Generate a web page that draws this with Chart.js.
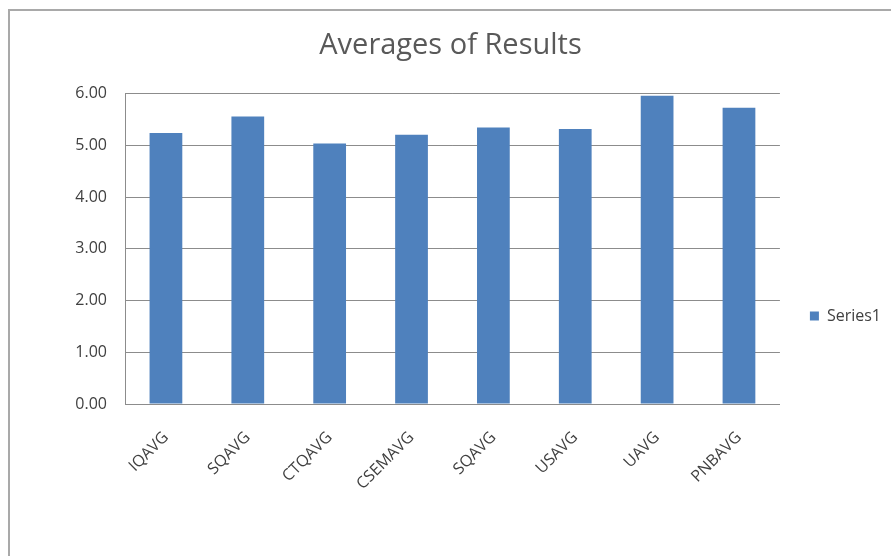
<!DOCTYPE html>
<html>
<head>
<meta charset="utf-8">
<title>Averages of Results</title>
<script src="https://cdn.jsdelivr.net/npm/chart.js@4/dist/chart.umd.min.js"></script>
<style>
  html, body { margin: 0; padding: 0; background: #fff; overflow: hidden; }
  #frame {
    position: absolute; left: 8px; top: 9px;
    width: 920px; height: 600px;
    border: 2px solid #a9a9a9;
    box-sizing: border-box;
  }
  #chart { position: absolute; left: 0; top: 0; }
</style>
</head>
<body>
<div id="frame"></div>
<canvas id="chart" width="891" height="556"></canvas>
<script>
// categories and averages
const categories = ['IQAVG', 'SQAVG', 'CTQAVG', 'CSEMAVG', 'SQAVG', 'USAVG', 'UAVG', 'PNBAVG'];
const series1 = [5.24, 5.56, 5.04, 5.21, 5.35, 5.32, 5.96, 5.73];
const yTicks = [0, 1, 2, 3, 4, 5, 6];

const FONT = '"Open Sans", sans-serif';
const TEXT = '#404040';
const GRID = '#8c8c8c';

// push the legend down so it sits level with the middle of the plot
const legendShift = {
  id: 'legendShift',
  afterLayout(chart) {
    const lg = chart.legend;
    if (!lg) return;
    lg.top += 33;
    lg.bottom += 33;
  }
};

new Chart(document.getElementById('chart'), {
  type: 'bar',
  data: {
    labels: categories,
    datasets: [{
      label: 'Series1',
      data: series1,
      backgroundColor: '#4f81bd',
      borderWidth: 0,
      categoryPercentage: 1,
      barPercentage: 0.4
    }]
  },
  options: {
    responsive: false,
    animation: false,
    devicePixelRatio: 1,
    layout: { padding: { left: 10, right: 0, top: 10, bottom: 0 } },
    plugins: {
      title: {
        display: true,
        text: 'Averages of Results',
        color: '#595959',
        font: { family: FONT, size: 29, weight: 'normal' },
        padding: { top: 18, bottom: 31 }
      },
      legend: {
        position: 'right',
        labels: {
          boxWidth: 9,
          boxHeight: 9,
          padding: 30,
          color: TEXT,
          font: { family: FONT, size: 16 }
        }
      },
      tooltip: { enabled: false }
    },
    scales: {
      x: {
        grid: { display: false, drawTicks: false },
        border: { color: GRID, width: 1 },
        ticks: {
          color: TEXT,
          font: { family: FONT, size: 16 },
          minRotation: 45,
          maxRotation: 45,
          padding: 24
        },
        afterFit: s => { s.height = 152; }
      },
      y: {
        min: 0,
        max: 6,
        afterBuildTicks: s => { s.ticks = yTicks.map(v => ({ value: v })); },
        grid: { color: GRID, drawTicks: false },
        border: { color: GRID, width: 1 },
        ticks: {
          color: TEXT,
          font: { family: FONT, size: 16 },
          padding: 18,
          callback: v => Number(v).toFixed(2)
        },
        afterFit: s => { s.width = 115; }
      }
    }
  },
  plugins: [legendShift]
});
</script>
</body>
</html>
